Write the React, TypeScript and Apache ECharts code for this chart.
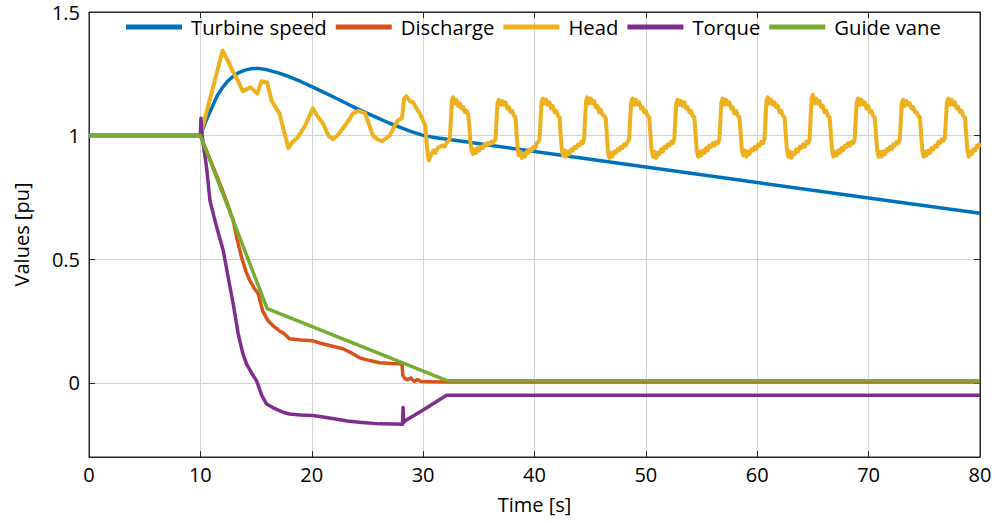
import React, { useEffect, useRef } from "react";
import * as echarts from "echarts";

const seriesNames = ["Turbine speed", "Discharge", "Head", "Torque", "Guide vane"];
const seriesColors = ["#0072BD", "#D95319", "#EDB120", "#7E2F8E", "#77AC30"];

const xTicks = [0, 10, 20, 30, 40, 50, 60, 70, 80];
const yTicks = [0, 0.5, 1, 1.5];

const turbineSpeed: number[][] = [
  [0, 1], [10, 1], [10.5, 1.06], [11, 1.11], [11.5, 1.16], [12, 1.195], [12.5, 1.222],
  [13, 1.242], [13.5, 1.256], [14, 1.265], [14.5, 1.27], [15.2, 1.272], [16, 1.266],
  [17, 1.254], [18, 1.238], [19, 1.219], [20, 1.198], [21, 1.177], [22, 1.155],
  [23, 1.133], [24, 1.11], [25, 1.09], [26, 1.07], [27, 1.05], [28, 1.032], [29, 1.015],
  [30, 1.001], [31, 0.992], [32, 0.986], [34, 0.974], [36, 0.961], [40, 0.936],
  [50, 0.873], [60, 0.81], [70, 0.748], [80, 0.686],
];

const discharge: number[][] = [
  [0, 1], [10, 1], [10.5, 0.945], [11, 0.89], [11.5, 0.833], [12, 0.777], [12.5, 0.715],
  [12.95, 0.656], [13.3, 0.58], [13.7, 0.507], [14.1, 0.45], [14.45, 0.413], [14.8, 0.385],
  [15.2, 0.36], [15.6, 0.29], [16.1, 0.25], [16.6, 0.228], [17.1, 0.21], [17.5, 0.2],
  [18, 0.178], [19, 0.173], [20.1, 0.17], [20.8, 0.16], [21.5, 0.152], [22.8, 0.138],
  [23.6, 0.12], [24.3, 0.101], [25.2, 0.09], [26.1, 0.081], [27.2, 0.078], [28.1, 0.077],
  [28.18, 0.03], [28.35, 0.018], [28.6, 0.012], [28.9, 0.02], [29.2, 0.006], [29.5, 0.013],
  [29.8, 0.005], [30.5, 0.004], [32.1, 0.003], [80, 0.003],
];

const head: number[][] = [
  [0, 1], [10, 1], [12, 1.344], [12.5, 1.3], [12.9, 1.26], [13.4, 1.22], [13.8, 1.18],
  [14.5, 1.195], [15.1, 1.17], [15.5, 1.22], [16, 1.215], [16.4, 1.14], [17.1, 1.09],
  [17.5, 1.02], [17.9, 0.95], [18.3, 0.975], [18.7, 0.99], [19.4, 1.04], [19.7, 1.07],
  [20.1, 1.11], [20.5, 1.08], [21, 1.05], [21.5, 1.0], [21.9, 0.985], [22.3, 1.0],
  [22.8, 1.03], [23.3, 1.06], [23.7, 1.09], [24.2, 1.1], [24.8, 1.09], [25.1, 1.05],
  [25.5, 1.0], [25.9, 0.985], [26.3, 0.978], [26.7, 0.99], [27, 1.0], [27.4, 1.035],
  [27.7, 1.06], [28.1, 1.07], [28.3, 1.15], [28.5, 1.16], [28.8, 1.14], [29.1, 1.135],
  [29.4, 1.11], [29.7, 1.09], [30, 1.06], [30.2, 1.04], [30.35, 0.95], [30.5, 0.9],
  [30.65, 0.915], [30.8, 0.93], [30.95, 0.94], [31.1, 0.93], [31.3, 0.95], [31.5, 0.955],
  [31.7, 0.96], [31.9, 0.955], [32.1, 0.97], [32.3, 0.98],
  [32.4, 0.99], [32.5, 1.07], [32.58, 1.14], [32.7, 1.155], [32.85, 1.13], [33.0, 1.145],
  [33.15, 1.12], [33.3, 1.13], [33.45, 1.11], [33.6, 1.115], [33.75, 1.095], [33.9, 1.1],
  [34.05, 1.085], [34.15, 1.04], [34.25, 0.97], [34.35, 0.94], [34.47, 0.925], [34.6, 0.945],
  [34.75, 0.93], [34.9, 0.95], [35.05, 0.94], [35.2, 0.955], [35.35, 0.95], [35.5, 0.965],
  [35.65, 0.96], [35.8, 0.97], [35.95, 0.965], [36.1, 0.975], [36.25, 0.97], [36.4, 0.98],
  [36.5, 0.985],
  [36.6, 1.07], [36.68, 1.13], [36.8, 1.145], [36.95, 1.125], [37.1, 1.14], [37.25, 1.125],
  [37.4, 1.135], [37.55, 1.11], [37.7, 1.115], [37.85, 1.095], [38.0, 1.1], [38.15, 1.08],
  [38.3, 1.075], [38.4, 1.0], [38.5, 0.94], [38.6, 0.92], [38.72, 0.935], [38.86, 0.91],
  [39.0, 0.925], [39.15, 0.915], [39.3, 0.935], [39.45, 0.93], [39.6, 0.945], [39.75, 0.94],
  [39.9, 0.955], [40.05, 0.95], [40.2, 0.97], [40.35, 0.975], [40.45, 0.985],
  [40.55, 1.07], [40.63, 1.135], [40.75, 1.15], [40.9, 1.13], [41.05, 1.145], [41.2, 1.125],
  [41.35, 1.135], [41.5, 1.11], [41.65, 1.12], [41.8, 1.095], [41.95, 1.1], [42.1, 1.08],
  [42.25, 1.075], [42.35, 1.0], [42.45, 0.945], [42.57, 0.92], [42.7, 0.94], [42.85, 0.915],
  [43.0, 0.935], [43.15, 0.925], [43.3, 0.945], [43.45, 0.94], [43.6, 0.955], [43.75, 0.95],
  [43.9, 0.965], [44.05, 0.96], [44.2, 0.975], [44.35, 0.97], [44.45, 0.985],
  [44.55, 1.075], [44.63, 1.14], [44.75, 1.155], [44.9, 1.13], [45.05, 1.15], [45.2, 1.13],
  [45.35, 1.14], [45.5, 1.115], [45.65, 1.12], [45.8, 1.095], [45.95, 1.105], [46.1, 1.085],
  [46.25, 1.08], [46.4, 1.07], [46.5, 1.0], [46.6, 0.935], [46.72, 0.91], [46.85, 0.93],
  [47.0, 0.915], [47.15, 0.935], [47.3, 0.93], [47.45, 0.945], [47.6, 0.94], [47.75, 0.955],
  [47.9, 0.95], [48.05, 0.965], [48.2, 0.96], [48.35, 0.975], [48.5, 0.985],
  [48.6, 1.075], [48.68, 1.135], [48.8, 1.15], [48.95, 1.125], [49.1, 1.145], [49.25, 1.125],
  [49.4, 1.135], [49.55, 1.11], [49.7, 1.115], [49.85, 1.095], [50.0, 1.1], [50.15, 1.08],
  [50.3, 1.075], [50.42, 1.0], [50.52, 0.94], [50.64, 0.915], [50.78, 0.935], [50.92, 0.91],
  [51.07, 0.93], [51.22, 0.925], [51.37, 0.945], [51.52, 0.935], [51.67, 0.955], [51.82, 0.95],
  [51.97, 0.965], [52.12, 0.96], [52.27, 0.975], [52.42, 0.97], [52.55, 0.985],
  [52.65, 1.07], [52.73, 1.13], [52.85, 1.145], [53.0, 1.125], [53.15, 1.14], [53.3, 1.12],
  [53.45, 1.135], [53.6, 1.11], [53.75, 1.115], [53.9, 1.095], [54.05, 1.1], [54.2, 1.08],
  [54.35, 1.075], [54.47, 1.0], [54.57, 0.94], [54.69, 0.915], [54.83, 0.935], [54.97, 0.92],
  [55.12, 0.94], [55.27, 0.93], [55.42, 0.95], [55.57, 0.94], [55.72, 0.96], [55.87, 0.955],
  [56.02, 0.97], [56.17, 0.96], [56.32, 0.975], [56.47, 0.97], [56.6, 0.985],
  [56.7, 1.07], [56.78, 1.135], [56.9, 1.15], [57.05, 1.125], [57.2, 1.145], [57.35, 1.125],
  [57.5, 1.135], [57.65, 1.11], [57.8, 1.115], [57.95, 1.09], [58.1, 1.1], [58.25, 1.08],
  [58.4, 1.075], [58.52, 1.0], [58.62, 0.94], [58.74, 0.92], [58.88, 0.94], [59.02, 0.915],
  [59.17, 0.935], [59.32, 0.925], [59.47, 0.945], [59.62, 0.94], [59.77, 0.955], [59.92, 0.945],
  [60.07, 0.965], [60.22, 0.96], [60.37, 0.975], [60.52, 0.97], [60.65, 0.985],
  [60.75, 1.075], [60.83, 1.14], [60.95, 1.155], [61.1, 1.13], [61.25, 1.145], [61.4, 1.125],
  [61.55, 1.135], [61.7, 1.115], [61.85, 1.12], [62.0, 1.095], [62.15, 1.1], [62.3, 1.08],
  [62.45, 1.075], [62.57, 1.0], [62.67, 0.94], [62.79, 0.915], [62.93, 0.935], [63.07, 0.91],
  [63.22, 0.93], [63.37, 0.925], [63.52, 0.945], [63.67, 0.935], [63.82, 0.955], [63.97, 0.95],
  [64.12, 0.965], [64.27, 0.955], [64.42, 0.975], [64.57, 0.97], [64.7, 0.985],
  [64.8, 1.08], [64.88, 1.15], [65.0, 1.165], [65.15, 1.13], [65.3, 1.15], [65.45, 1.13],
  [65.6, 1.14], [65.75, 1.115], [65.9, 1.12], [66.05, 1.095], [66.2, 1.1], [66.35, 1.08],
  [66.5, 1.075], [66.62, 1.0], [66.72, 0.94], [66.84, 0.915], [66.98, 0.935], [67.12, 0.92],
  [67.27, 0.94], [67.42, 0.93], [67.57, 0.95], [67.72, 0.94], [67.87, 0.96], [68.02, 0.955],
  [68.17, 0.97], [68.32, 0.96], [68.47, 0.975], [68.62, 0.97], [68.75, 0.985],
  [68.85, 1.075], [68.93, 1.135], [69.05, 1.15], [69.2, 1.125], [69.35, 1.145], [69.5, 1.125],
  [69.65, 1.135], [69.8, 1.11], [69.95, 1.12], [70.1, 1.095], [70.25, 1.1], [70.4, 1.08],
  [70.55, 1.075], [70.67, 1.0], [70.77, 0.94], [70.89, 0.915], [71.03, 0.935], [71.17, 0.915],
  [71.32, 0.935], [71.47, 0.925], [71.62, 0.945], [71.77, 0.94], [71.92, 0.955], [72.07, 0.945],
  [72.22, 0.965], [72.37, 0.96], [72.52, 0.975], [72.67, 0.97], [72.8, 0.985],
  [72.9, 1.07], [72.98, 1.13], [73.1, 1.145], [73.25, 1.12], [73.4, 1.14], [73.55, 1.125],
  [73.7, 1.13], [73.85, 1.11], [74.0, 1.115], [74.15, 1.095], [74.3, 1.095], [74.45, 1.08],
  [74.6, 1.075], [74.72, 1.0], [74.82, 0.94], [74.94, 0.915], [75.08, 0.935], [75.22, 0.92],
  [75.37, 0.94], [75.52, 0.93], [75.67, 0.95], [75.82, 0.945], [75.97, 0.96], [76.12, 0.955],
  [76.27, 0.975], [76.42, 0.97], [76.57, 0.985], [76.72, 0.98], [76.85, 0.99],
  [76.95, 1.075], [77.03, 1.135], [77.15, 1.15], [77.3, 1.125], [77.45, 1.145], [77.6, 1.125],
  [77.75, 1.135], [77.9, 1.11], [78.05, 1.115], [78.2, 1.095], [78.35, 1.1], [78.5, 1.08],
  [78.65, 1.075], [78.77, 1.0], [78.87, 0.94], [78.99, 0.915], [79.13, 0.935], [79.27, 0.925],
  [79.42, 0.945], [79.57, 0.94], [79.72, 0.96], [79.87, 0.955], [80.0, 0.97],
];

const torque: number[][] = [
  [0, 1], [10, 1], [10.05, 1.07], [10.15, 1.0], [10.56, 0.87], [10.86, 0.737],
  [11.46, 0.63], [12.06, 0.534], [12.5, 0.426], [12.95, 0.319], [13.4, 0.197],
  [13.8, 0.12], [14.15, 0.076], [14.6, 0.04], [15.05, 0.008], [15.5, -0.05],
  [15.95, -0.086], [16.5, -0.1], [17, -0.11], [17.5, -0.12], [18, -0.126], [19, -0.13],
  [20.1, -0.132], [21, -0.138], [22, -0.145], [23.2, -0.154], [24.5, -0.16], [26.1, -0.166],
  [27.5, -0.167], [28.15, -0.168], [28.2, -0.1], [28.25, -0.16], [28.5, -0.15],
  [30, -0.11], [32.1, -0.05], [80, -0.05],
];

const guideVane: number[][] = [
  [0, 1], [10, 1], [16, 0.3], [32.2, 0.008], [80, 0.008],
];

const seriesData = [turbineSpeed, discharge, head, torque, guideVane];
const seriesWidths = [3.5, 3.5, 4, 3.5, 3.5];

export default function App() {
  const ref = useRef<HTMLDivElement>(null);
  useEffect(() => {
    if (!ref.current) return;
    const chart = echarts.init(ref.current, null, { renderer: "svg" });
    const font = "Open Sans";
    const axisColor = "#262626";
    const gridColor = "#d2d2d2";
    chart.setOption({
      animation: false,
      textStyle: { fontFamily: font },
      grid: {
        left: 89, right: 15, top: 12, bottom: 66,
        show: true, borderColor: axisColor, borderWidth: 1, backgroundColor: "transparent",
      },
      legend: {
        data: seriesNames,
        left: 121, top: 12,
        icon: "rect", itemWidth: 56, itemHeight: 5, itemGap: 9,
        textStyle: { fontSize: 20.3, color: "#000", fontFamily: font, padding: [0, 0, 0, 4] },
      },
      xAxis: [
        {
          type: "value", min: 0, max: 80, interval: 10,
          name: "Time [s]", nameLocation: "middle", nameGap: 37,
          nameTextStyle: { fontSize: 20, color: "#000", fontFamily: font },
          axisLine: { show: true, onZero: false, lineStyle: { color: axisColor } },
          axisTick: { show: true, inside: true, length: 6, lineStyle: { color: axisColor } },
          axisLabel: { fontSize: 20, color: "#000", margin: 7, fontFamily: font },
          splitLine: { show: true, lineStyle: { color: gridColor, width: 1 } },
        },
        {
          type: "value", min: 0, max: 80, interval: 10, position: "top",
          axisLine: { show: true, onZero: false, lineStyle: { color: axisColor } },
          axisTick: { show: true, inside: true, length: 6, lineStyle: { color: axisColor } },
          axisLabel: { show: false },
          splitLine: { show: false },
        },
      ],
      yAxis: [
        {
          type: "value", min: -0.3, max: 1.5,
          name: "Values [pu]", nameLocation: "middle", nameGap: 58,
          nameTextStyle: { fontSize: 20, color: "#000", fontFamily: font },
          axisLine: { show: true, onZero: false, lineStyle: { color: axisColor } },
          axisTick: { show: true, inside: true, length: 6, customValues: yTicks, lineStyle: { color: axisColor } },
          axisLabel: { fontSize: 20, color: "#000", margin: 9, customValues: yTicks, fontFamily: font },
          splitLine: { show: true, lineStyle: { color: gridColor, width: 1 } },
        },
        {
          type: "value", min: -0.3, max: 1.5, position: "right",
          axisLine: { show: true, onZero: false, lineStyle: { color: axisColor } },
          axisTick: { show: true, inside: true, length: 6, customValues: yTicks, lineStyle: { color: axisColor } },
          axisLabel: { show: false, customValues: yTicks },
          splitLine: { show: false },
        },
      ],
      series: seriesNames.map((name, i) => ({
        name,
        type: "line",
        data: seriesData[i],
        xAxisIndex: 0,
        yAxisIndex: 0,
        showSymbol: false,
        symbol: "none",
        color: seriesColors[i],
        lineStyle: { width: seriesWidths[i], color: seriesColors[i], join: "round" },
        z: 2 + i,
      })),
    });
    return () => chart.dispose();
  }, []);
  return <div ref={ref} style={{ width: 995, height: 523, position: "absolute", left: 0, top: 0 }} />;
}
